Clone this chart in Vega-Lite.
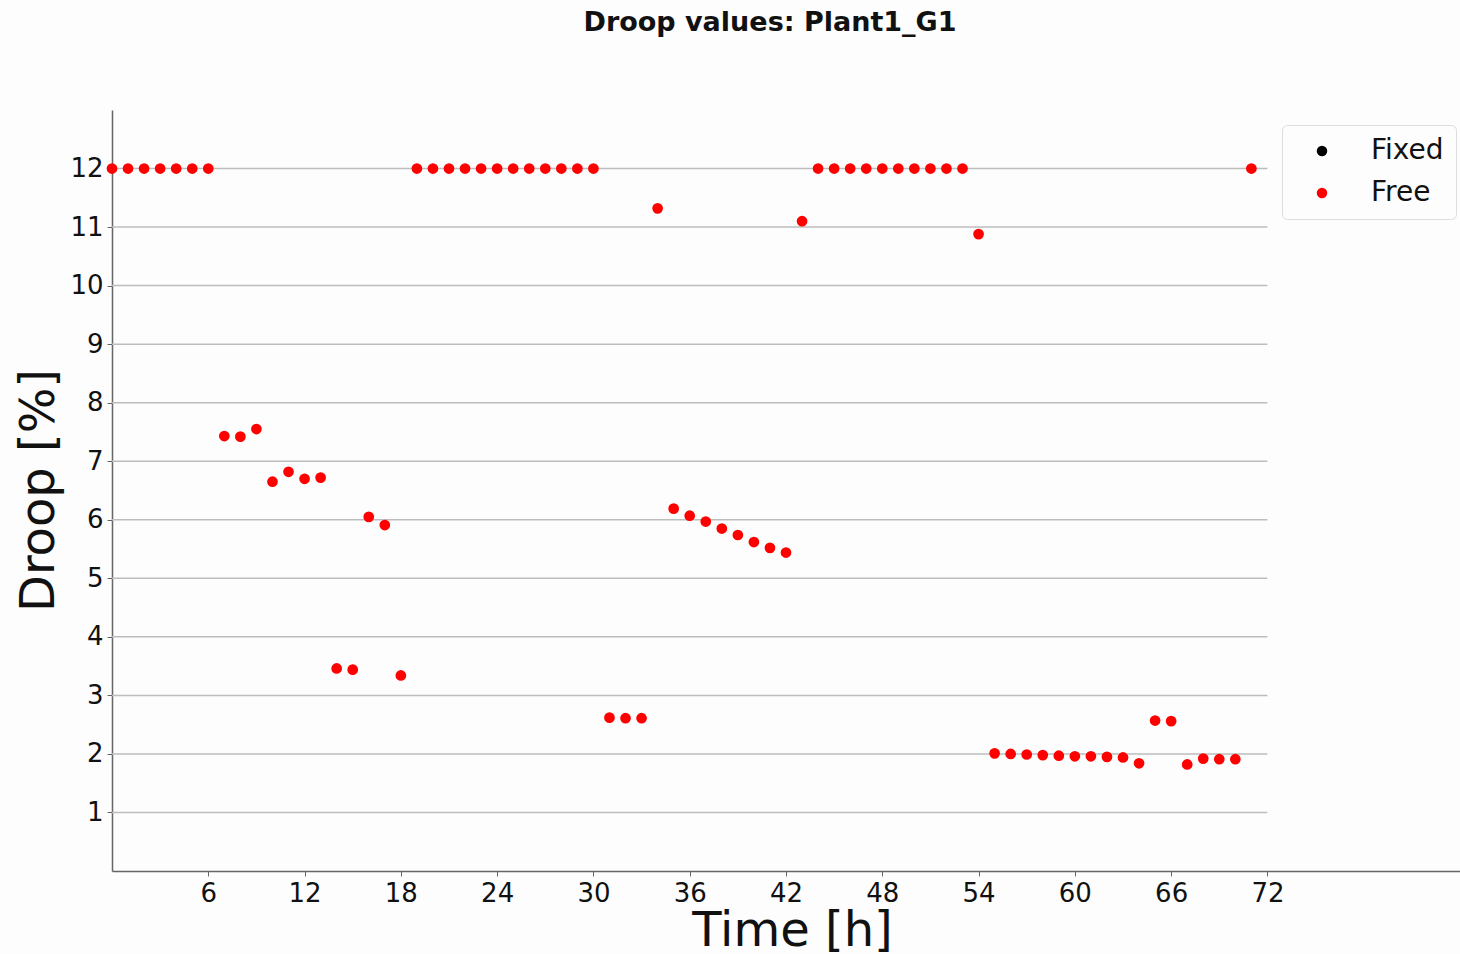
{
  "$schema": "https://vega.github.io/schema/vega-lite/v6.json",
  "autosize": "none",
  "width": 1348,
  "height": 761,
  "padding": {"left": 112, "top": 110, "right": 0, "bottom": 83},
  "background": "#fdfdfd",
  "config": {
    "font": "DejaVu Sans",
    "view": {"stroke": null},
    "axis": {"labelFont": "DejaVu Sans", "titleFont": "DejaVu Sans", "labelColor": "#111", "titleColor": "#111", "domainColor": "#666", "tickColor": "#666", "grid": false}
  },
  "title": {"text": "Droop values: Plant1_G1", "fontSize": 27, "fontWeight": "bold", "color": "#111", "anchor": "middle", "offset": 73, "dx": -16},
  "datasets": {
    "grid": [{"g": 1}, {"g": 2}, {"g": 3}, {"g": 4}, {"g": 5}, {"g": 6}, {"g": 7}, {"g": 8}, {"g": 9}, {"g": 10}, {"g": 11}, {"g": 12}],
    "droop": [
      {"t": 0, "d": 12, "s": "Free"}, {"t": 1, "d": 12, "s": "Free"}, {"t": 2, "d": 12, "s": "Free"}, {"t": 3, "d": 12, "s": "Free"},
      {"t": 4, "d": 12, "s": "Free"}, {"t": 5, "d": 12, "s": "Free"}, {"t": 6, "d": 12, "s": "Free"},
      {"t": 7, "d": 7.43, "s": "Free"}, {"t": 8, "d": 7.42, "s": "Free"}, {"t": 9, "d": 7.55, "s": "Free"},
      {"t": 10, "d": 6.65, "s": "Free"}, {"t": 11, "d": 6.82, "s": "Free"}, {"t": 12, "d": 6.7, "s": "Free"}, {"t": 13, "d": 6.72, "s": "Free"},
      {"t": 14, "d": 3.46, "s": "Free"}, {"t": 15, "d": 3.44, "s": "Free"}, {"t": 16, "d": 6.05, "s": "Free"}, {"t": 17, "d": 5.91, "s": "Free"},
      {"t": 18, "d": 3.34, "s": "Free"},
      {"t": 19, "d": 12, "s": "Free"}, {"t": 20, "d": 12, "s": "Free"}, {"t": 21, "d": 12, "s": "Free"}, {"t": 22, "d": 12, "s": "Free"},
      {"t": 23, "d": 12, "s": "Free"}, {"t": 24, "d": 12, "s": "Free"}, {"t": 25, "d": 12, "s": "Free"}, {"t": 26, "d": 12, "s": "Free"},
      {"t": 27, "d": 12, "s": "Free"}, {"t": 28, "d": 12, "s": "Free"}, {"t": 29, "d": 12, "s": "Free"}, {"t": 30, "d": 12, "s": "Free"},
      {"t": 31, "d": 2.62, "s": "Free"}, {"t": 32, "d": 2.61, "s": "Free"}, {"t": 33, "d": 2.61, "s": "Free"},
      {"t": 34, "d": 11.32, "s": "Free"},
      {"t": 35, "d": 6.19, "s": "Free"}, {"t": 36, "d": 6.07, "s": "Free"}, {"t": 37, "d": 5.97, "s": "Free"}, {"t": 38, "d": 5.85, "s": "Free"},
      {"t": 39, "d": 5.74, "s": "Free"}, {"t": 40, "d": 5.62, "s": "Free"}, {"t": 41, "d": 5.52, "s": "Free"}, {"t": 42, "d": 5.44, "s": "Free"},
      {"t": 43, "d": 11.1, "s": "Free"},
      {"t": 44, "d": 12, "s": "Free"}, {"t": 45, "d": 12, "s": "Free"}, {"t": 46, "d": 12, "s": "Free"}, {"t": 47, "d": 12, "s": "Free"},
      {"t": 48, "d": 12, "s": "Free"}, {"t": 49, "d": 12, "s": "Free"}, {"t": 50, "d": 12, "s": "Free"}, {"t": 51, "d": 12, "s": "Free"},
      {"t": 52, "d": 12, "s": "Free"}, {"t": 53, "d": 12, "s": "Free"},
      {"t": 54, "d": 10.88, "s": "Free"},
      {"t": 55, "d": 2.01, "s": "Free"}, {"t": 56, "d": 2.0, "s": "Free"}, {"t": 57, "d": 1.99, "s": "Free"}, {"t": 58, "d": 1.98, "s": "Free"},
      {"t": 59, "d": 1.97, "s": "Free"}, {"t": 60, "d": 1.96, "s": "Free"}, {"t": 61, "d": 1.96, "s": "Free"}, {"t": 62, "d": 1.95, "s": "Free"},
      {"t": 63, "d": 1.94, "s": "Free"}, {"t": 64, "d": 1.84, "s": "Free"}, {"t": 65, "d": 2.57, "s": "Free"}, {"t": 66, "d": 2.56, "s": "Free"},
      {"t": 67, "d": 1.82, "s": "Free"}, {"t": 68, "d": 1.92, "s": "Free"}, {"t": 69, "d": 1.91, "s": "Free"}, {"t": 70, "d": 1.91, "s": "Free"},
      {"t": 71, "d": 12, "s": "Free"}
    ]
  },
  "layer": [
    {
      "data": {"name": "grid"},
      "mark": {"type": "rule", "color": "#bdbdbd", "strokeWidth": 1.5},
      "encoding": {
        "y": {"field": "g", "type": "quantitative"},
        "x": {"datum": 0, "type": "quantitative"},
        "x2": {"datum": 72}
      }
    },
    {
      "data": {"name": "droop"},
      "mark": {"type": "circle", "size": 115, "opacity": 1},
      "encoding": {
        "x": {
          "field": "t", "type": "quantitative",
          "scale": {"domain": [0, 84], "nice": false, "zero": false},
          "axis": {"title": "Time [h]", "values": [6, 12, 18, 24, 30, 36, 42, 48, 54, 60, 66, 72], "format": "d", "labelFontSize": 26, "titleFontSize": 48, "titleFontWeight": "normal", "tickSize": 5, "labelPadding": 4, "titleX": 680, "titleY": 74, "titleBaseline": "alphabetic", "domainWidth": 1.5}
        },
        "y": {
          "field": "d", "type": "quantitative",
          "scale": {"domain": [0, 13], "nice": false},
          "axis": {"title": "Droop [%]", "values": [1, 2, 3, 4, 5, 6, 7, 8, 9, 10, 11, 12], "format": "d", "labelFontSize": 26, "titleFontSize": 48, "titleFontWeight": "normal", "tickSize": 5, "labelPadding": 4, "titleX": -49, "titleY": 380, "titleAlign": "center", "domainWidth": 1.5}
        },
        "color": {
          "field": "s", "type": "nominal",
          "scale": {"domain": ["Fixed", "Free"], "range": ["#000000", "#ff0000"]},
          "legend": {
            "title": null, "orient": "none", "legendX": 1170, "legendY": 15,
            "labelFontSize": 28, "labelColor": "#111", "symbolType": "circle", "symbolSize": 110,
            "symbolOffset": 14, "labelOffset": 35, "rowPadding": 14, "padding": 12,
            "strokeColor": "#dddddd", "cornerRadius": 5, "fillColor": "#fdfdfd", "symbolOpacity": 1
          }
        }
      }
    }
  ]
}
